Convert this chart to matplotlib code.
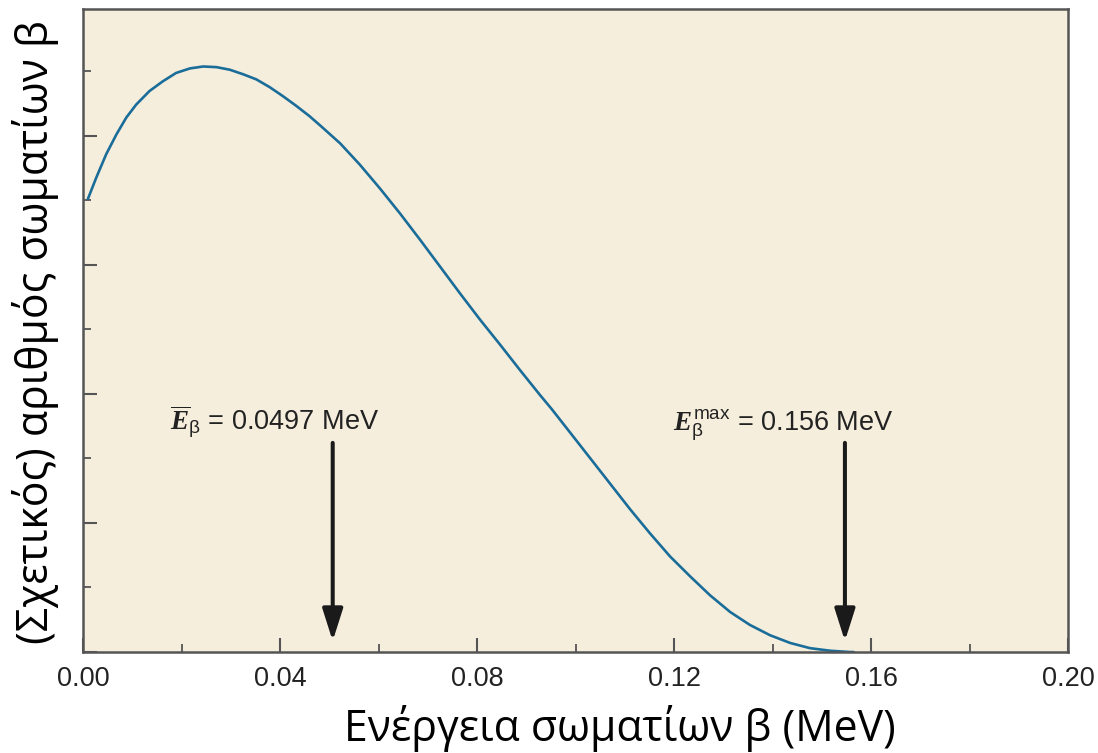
import numpy as np
import matplotlib
matplotlib.use('Agg')
import matplotlib.pyplot as plt
from matplotlib.ticker import MultipleLocator, FixedLocator

# beta spectrum (energy in MeV, relative counts)
energy = [0.0010, 0.0027, 0.0047, 0.0068, 0.0088, 0.0108, 0.0135, 0.0162,
          0.0189, 0.0217, 0.0244, 0.0271, 0.0298, 0.0325, 0.0352, 0.0379,
          0.0406, 0.0433, 0.0460, 0.0484, 0.0522, 0.0562, 0.0603, 0.0644,
          0.0684, 0.0725, 0.0765, 0.0806, 0.0847, 0.0887, 0.0928, 0.0952,
          0.0989, 0.1029, 0.1070, 0.1111, 0.1151, 0.1192, 0.1233, 0.1273,
          0.1314, 0.1354, 0.1395, 0.1436, 0.1476, 0.1517, 0.1557, 0.1565]
counts = [7.02, 7.35, 7.71, 8.02, 8.28, 8.48, 8.69, 8.84,
          8.97, 9.04, 9.07, 9.06, 9.02, 8.95, 8.87, 8.75,
          8.61, 8.46, 8.30, 8.14, 7.88, 7.55, 7.18, 6.79,
          6.39, 5.97, 5.56, 5.15, 4.76, 4.37, 3.98, 3.76,
          3.40, 3.01, 2.61, 2.21, 1.84, 1.48, 1.17, 0.88,
          0.62, 0.42, 0.26, 0.14, 0.06, 0.02, 0.0, 0.0]

arrow_x = [0.0507, 0.1547]
label_x = [0.0177, 0.1198]
arrow_labels = [r'$\overline{\mathit{E}}_{\mathrm{\beta}}$ = 0.0497 MeV',
                r'$\mathit{E}_{\mathrm{\beta}}^{\mathrm{max}}$ = 0.156 MeV']
xticks_vals = [0.00, 0.04, 0.08, 0.12, 0.16, 0.20]

plt.rcParams['mathtext.fontset'] = 'custom'
plt.rcParams['mathtext.rm'] = 'Liberation Sans'
plt.rcParams['mathtext.it'] = 'Liberation Serif:italic:bold'
plt.rcParams['mathtext.bf'] = 'Liberation Serif:bold'

bg = '#f6eedd'
spine_c = '#555555'
fig = plt.figure(figsize=(10.98, 7.53), dpi=100)
ax = fig.add_axes([0.0756, 0.1341, 0.8971, 0.8539])
ax.set_facecolor(bg)

ax.plot(energy, counts, color='#1b6d99', lw=1.9, solid_capstyle='round',
        solid_joinstyle='round')

for x, lx, lab in zip(arrow_x, label_x, arrow_labels):
    ax.annotate('', xy=(x, 0.17), xytext=(x, 3.24),
                arrowprops=dict(arrowstyle='-|>,head_width=0.62,head_length=1.95',
                                lw=2.9, color='#1a1a1a', shrinkA=0, shrinkB=0,
                                mutation_scale=10))
    ax.text(lx, 3.43, lab, ha='left', va='baseline', fontsize=19.5,
            family='Liberation Sans', color='#222222')

ax.set_xlim(0, 0.20)
ax.set_ylim(0, 9.96)
ax.xaxis.set_major_locator(FixedLocator(xticks_vals))
ax.xaxis.set_minor_locator(MultipleLocator(0.02))
ax.yaxis.set_major_locator(MultipleLocator(2))
ax.yaxis.set_minor_locator(MultipleLocator(1))
ax.set_xticklabels(['%.2f' % v for v in xticks_vals], family='Liberation Sans',
                   fontsize=19.5, color='#222222')
ax.set_yticklabels([])
ax.tick_params(which='major', direction='in', length=10, width=1.5, color=spine_c,
               pad=10, top=False, right=False)
ax.tick_params(which='minor', direction='in', length=6, width=1.3, color=spine_c,
               top=False, right=False)
for s in ax.spines.values():
    s.set_color(spine_c)
    s.set_linewidth(1.8)

fig.text(620 / 1098, 1 - 728 / 753, 'Ενέργεια σωματίων β (MeV)', family='Open Sans',
         fontsize=30.8, ha='center', va='center', color='black')
fig.text(36 / 1098, 1 - 332 / 753, '(Σχετικός) αριθμός σωματίων β', family='Open Sans',
         fontsize=30.8, ha='center', va='center', rotation=90, color='black')

fig.savefig('out.png', dpi=100, facecolor='white')
